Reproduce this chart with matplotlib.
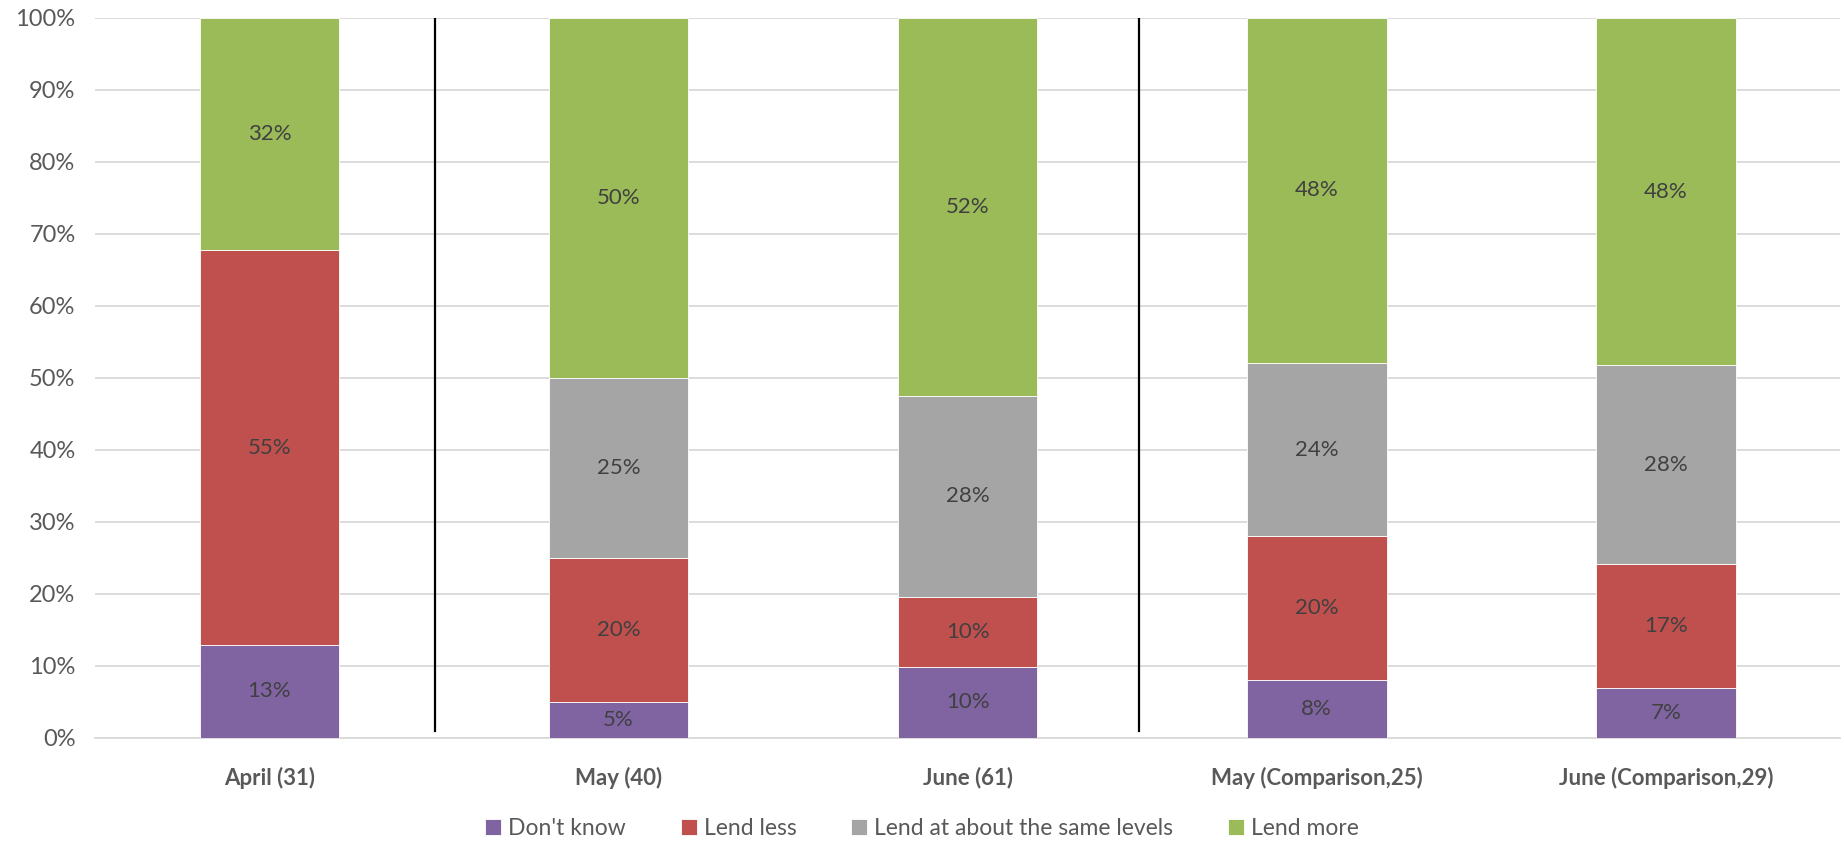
import matplotlib
matplotlib.use("Agg")
import matplotlib.pyplot as plt
import numpy as np

categories = ["April (31)", "May (40)", "June (61)", "May (Comparison,25)", "June (Comparison,29)"]
series_names = ["Don't know", "Lend less", "Lend at about the same levels", "Lend more"]
dont_know = [12.9, 5.0, 9.8, 8.0, 6.9]
lend_less = [54.8, 20.0, 9.8, 20.0, 17.2]
same_levels = [0.0, 25.0, 27.9, 24.0, 27.6]
lend_more = [32.3, 50.0, 52.5, 48.0, 48.3]
colors = ["#8064A2", "#C0504D", "#A5A5A5", "#9BBB59"]
divider_positions = [0.475, 2.49]

plt.rcParams['font.family'] = ['Lato', 'DejaVu Sans']

fig = plt.figure(figsize=(18.44, 8.41), dpi=100)
ax = fig.add_axes([0.0515, 0.1228, 0.9465, 0.8562])

x = np.arange(len(categories))
bottom = np.zeros(len(categories))
for name, vals, col in zip(series_names, [dont_know, lend_less, same_levels, lend_more], colors):
    vals = np.array(vals)
    ax.bar(x, vals, width=0.4, bottom=bottom, color=col, label=name,
           edgecolor="white", linewidth=0.6, zorder=3)
    for xi, b, v in zip(x, bottom, vals):
        if v > 0:
            ax.text(xi, b + v / 2, f"{v:.0f}%", ha="center", va="center",
                    fontsize=16, color="#404040", zorder=4)
    bottom += vals

for xp in divider_positions:
    ax.plot([xp, xp], [0.9, 100], color="black", linewidth=1.6, zorder=4)

ax.set_xlim(-0.5, len(categories) - 0.5)
ax.set_ylim(0, 100)
ax.set_yticks(np.arange(0, 101, 10))
ax.set_yticklabels([f"{t}%" for t in range(0, 101, 10)])
ax.set_xticks(x)
ax.set_xticklabels(categories, fontweight="bold")
ax.tick_params(axis="y", length=0, labelsize=17, labelcolor="#595959", pad=14)
ax.tick_params(axis="x", length=0, labelsize=16, labelcolor="#595959", pad=21)
ax.grid(axis="y", color="#D9D9D9", linewidth=1.3, zorder=0)
for s in ["top", "right", "left"]:
    ax.spines[s].set_visible(False)
ax.spines["bottom"].set_color("#D9D9D9")
ax.spines["bottom"].set_linewidth(1.3)

fig.legend(loc="center", bbox_to_anchor=(0.5, 0.0145), ncol=4, frameon=False,
           fontsize=16.5, handlelength=0.7, handleheight=0.7, handletextpad=0.3,
           columnspacing=2.4, labelcolor="#595959")

fig.savefig("out.png", dpi=100)
